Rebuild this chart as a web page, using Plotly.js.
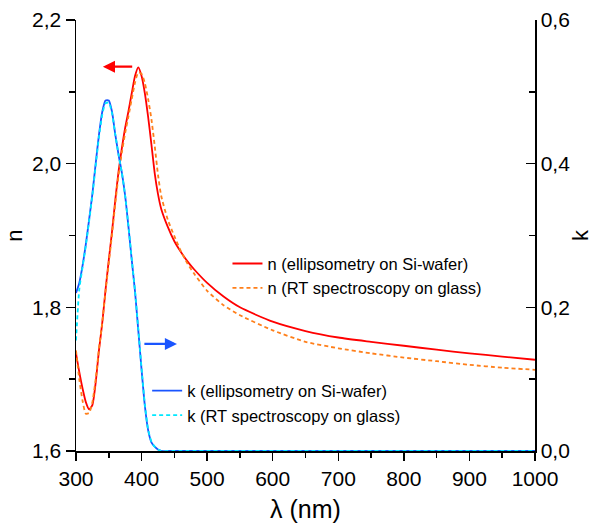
<!DOCTYPE html>
<html>
<head>
<meta charset="utf-8">
<script src="https://cdn.plot.ly/plotly-3.0.1.min.js"></script>
<style>html,body{margin:0;padding:0;background:#fff}#chart{width:600px;height:531px}</style>
</head>
<body>
<div id="chart"></div>
<script>
// Wavelength grid (nm)
const wavelength = [300,305,310,315,320,325,330,335,340,345,350,355,360,365,370,375,380,385,390,395,400,405,410,415,420,425,430,440,450,460,470,480,500,525,550,600,650,700,750,800,850,900,950,1000];

// n from ellipsometry on Si-wafer
const nEllipsometry = [1.736,1.710,1.687,1.668,1.658,1.664,1.695,1.740,1.778,1.824,1.866,1.906,1.950,1.990,2.022,2.050,2.073,2.098,2.122,2.134,2.122,2.098,2.065,2.027,1.987,1.958,1.937,1.912,1.892,1.877,1.864,1.853,1.834,1.815,1.800,1.780,1.767,1.758,1.752,1.7465,1.741,1.736,1.7315,1.727];

// n from RT spectroscopy on glass
const nRT = [1.740,1.700,1.670,1.652,1.653,1.668,1.700,1.742,1.778,1.822,1.862,1.902,1.945,1.985,2.016,2.043,2.066,2.090,2.113,2.127,2.125,2.112,2.090,2.062,2.025,1.985,1.955,1.922,1.899,1.878,1.861,1.847,1.823,1.803,1.789,1.768,1.752,1.743,1.736,1.730,1.725,1.720,1.716,1.713];

// k from ellipsometry on Si-wafer
const kEllipsometry = [0.220,0.234,0.258,0.288,0.322,0.358,0.400,0.440,0.472,0.488,0.488,0.472,0.440,0.412,0.387,0.355,0.312,0.266,0.222,0.168,0.113,0.063,0.029,0.012,0.006,0.002,0.000,0.000,0.000,0.000,0.000,0.000,0.000,0.000,0.000,0.000,0.000,0.000,0.000,0.000,0.000,0.000,0.000,0.000];

// k from RT spectroscopy on glass
const kRT = [0.154,0.225,0.256,0.286,0.320,0.356,0.397,0.437,0.468,0.484,0.485,0.470,0.440,0.412,0.387,0.355,0.313,0.267,0.223,0.170,0.115,0.065,0.030,0.013,0.006,0.002,0.000,0.000,0.000,0.000,0.000,0.000,0.000,0.000,0.000,0.000,0.000,0.000,0.000,0.000,0.000,0.000,0.000,0.000];

const seriesNames = [
  'n (ellipsometry on Si-wafer)',
  'n (RT spectroscopy on glass)',
  'k (ellipsometry on Si-wafer)',
  'k (RT spectroscopy on glass)'
];

const FONT = 'Arial, "Liberation Sans", sans-serif';

const traces = [
  {x: wavelength, y: kEllipsometry, name: seriesNames[2], yaxis: 'y2', mode: 'lines',
   line: {color: '#1a55ff', width: 1.8, shape: 'spline', smoothing: 0.6}, legend: 'legend2'},
  {x: wavelength, y: kRT, name: seriesNames[3], yaxis: 'y2', mode: 'lines',
   line: {color: '#00e8ff', width: 1.8, dash: '4px,3px', shape: 'spline', smoothing: 0.6}, legend: 'legend2'},
  {x: wavelength, y: nEllipsometry, name: seriesNames[0], mode: 'lines',
   line: {color: '#ff0000', width: 1.8, shape: 'spline', smoothing: 0.6}, legend: 'legend'},
  {x: wavelength, y: nRT, name: seriesNames[1], mode: 'lines',
   line: {color: '#ff7f1a', width: 1.8, dash: '4px,3px', shape: 'spline', smoothing: 0.6}, legend: 'legend'}
];

const tickFont = {family: FONT, size: 21, color: '#000'};

const layout = {
  width: 600, height: 531,
  margin: {l: 76, r: 65, t: 20, b: 80},
  paper_bgcolor: '#fff', plot_bgcolor: '#fff',
  separators: ', ',
  font: {family: FONT, color: '#000'},
  xaxis: {
    range: [300, 1000], dtick: 100, tick0: 300,
    showgrid: false, zeroline: false,
    showline: true, linecolor: '#000', linewidth: 1.5,
    ticks: 'outside', ticklen: 8, tickwidth: 1.5, tickcolor: '#000',
    minor: {dtick: 50, ticks: 'outside', ticklen: 5, tickwidth: 1.5, tickcolor: '#000', showgrid: false},
    tickfont: tickFont,
    title: {text: 'λ (nm)', font: {family: FONT, size: 25, color: '#000'}, standoff: 12}
  },
  xaxis2: {
    range: [300, 1000], dtick: 100, tick0: 300, overlaying: 'x', side: 'top', anchor: 'y',
    showgrid: false, zeroline: false, showticklabels: false,
    showline: true, linecolor: '#000', linewidth: 1.5,
    ticks: 'inside', ticklen: 6, tickwidth: 1.5, tickcolor: '#000'
  },
  yaxis: {
    range: [1.6, 2.2], dtick: 0.2, tick0: 1.6, tickformat: '.1f',
    showgrid: false, zeroline: false,
    showline: true, linecolor: '#000', linewidth: 1.5,
    ticks: 'outside', ticklen: 9, tickwidth: 1.5, tickcolor: '#000',
    minor: {dtick: 0.1, ticks: 'outside', ticklen: 6, tickwidth: 1.5, tickcolor: '#000', showgrid: false},
    tickfont: tickFont,
    title: {text: 'n', font: {family: FONT, size: 22, color: '#000'}, standoff: 3}
  },
  yaxis2: {
    range: [0, 0.6], dtick: 0.2, tick0: 0, tickformat: '.1f',
    overlaying: 'y', side: 'right', anchor: 'x',
    showgrid: false, zeroline: false,
    showline: true, linecolor: '#000', linewidth: 1.5,
    ticks: 'inside', ticklen: 9, tickwidth: 1.5, tickcolor: '#000',
    minor: {dtick: 0.1, ticks: 'inside', ticklen: 6, tickwidth: 1.5, tickcolor: '#000', showgrid: false},
    tickfont: tickFont,
    title: {text: 'k', font: {family: FONT, size: 22, color: '#000'}, standoff: 3}
  },
  legend: {
    x: 0.33, y: 0.475, xanchor: 'left', yanchor: 'top',
    bgcolor: 'rgba(0,0,0,0)', borderwidth: 0,
    font: {family: FONT, size: 16.5, color: '#000'},
    tracegroupgap: 0, itemwidth: 30, traceorder: 'normal'
  },
  legend2: {
    x: 0.155, y: 0.18, xanchor: 'left', yanchor: 'top',
    bgcolor: 'rgba(0,0,0,0)', borderwidth: 0,
    font: {family: FONT, size: 16.5, color: '#000'},
    tracegroupgap: 0, itemwidth: 30, traceorder: 'normal'
  },
  annotations: [
    {x: 341, y: 2.135, ax: 388, ay: 2.135, xref: 'x', yref: 'y', axref: 'x', ayref: 'y',
     text: '', showarrow: true, arrowhead: 2, arrowsize: 1.1, arrowwidth: 2.2, arrowcolor: '#ff0000'},
    {x: 454, y: 0.149, ax: 402, ay: 0.149, xref: 'x', yref: 'y2', axref: 'x', ayref: 'y2',
     text: '', showarrow: true, arrowhead: 2, arrowsize: 1.1, arrowwidth: 2.2, arrowcolor: '#1a55ff'}
  ],
  showlegend: true
};

Plotly.newPlot('chart', traces, layout, {staticPlot: true, displayModeBar: false});
</script>
</body>
</html>
